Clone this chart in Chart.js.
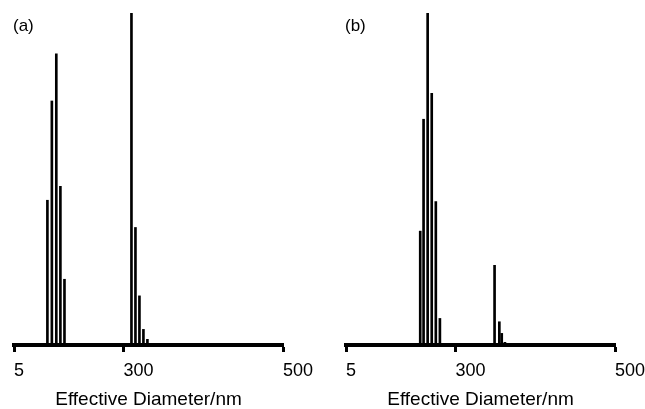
<!DOCTYPE html>
<html>
<head>
<meta charset="utf-8">
<script src="https://cdn.jsdelivr.net/npm/chart.js@4/dist/chart.umd.min.js"></script>
<style>
  html, body { margin: 0; padding: 0; background: #fff; overflow: hidden; width: 645px; height: 409px; }
  #wrap { position: relative; width: 645px; height: 409px; overflow: hidden; }
  canvas { position: absolute; top: 0; }
  #ca { left: 0; }
  #cb { left: 322px; }
  .plabel { position: absolute; top: 17px; font: 17px "Liberation Sans", Arial, sans-serif; line-height: 17px; color: #000; }
</style>
</head>
<body>
<div id="wrap">
  <canvas id="ca" width="322" height="409"></canvas>
  <canvas id="cb" width="340" height="409"></canvas>
  <div class="plabel" style="left:13px">(a)</div>
  <div class="plabel" style="left:345px">(b)</div>
</div>
<script>
// ---- data ----
const tickValues = [5, 300, 500];
const tickLabels = ['5', '300', '500'];
const axisTitle = 'Effective Diameter/nm';

const diameterA  = [95, 107, 119, 130, 141, 310, 315, 320, 325, 330];
const intensityA = [43.6, 73.5, 87.7, 47.8, 19.8, 100, 35.4, 14.8, 4.7, 1.7];

const diameterB  = [205, 214, 225, 236, 247, 258, 349, 355, 358, 362, 366];
const intensityB = [34.3, 68.0, 100, 75.8, 43.2, 8.0, 24, 7, 3.5, 0.8, 0.5];

// ---- axis with a break in scale at 300 nm (as in the original figure) ----
const BREAK_VALUE = 300;
const BREAK_FRACTION = 0.407;

class BrokenLinearScale extends Chart.LinearScale {
  _frac(v) {
    const min = this.min, max = this.max;
    if (v <= BREAK_VALUE) return (v - min) / (BREAK_VALUE - min) * BREAK_FRACTION;
    return BREAK_FRACTION + (v - BREAK_VALUE) / (max - BREAK_VALUE) * (1 - BREAK_FRACTION);
  }
  getPixelForValue(v) {
    if (v === null || v === undefined) return NaN;
    return this.getPixelForDecimal(this._frac(v));
  }
  getValueForPixel(p) {
    const d = this.getDecimalForPixel(p);
    if (d <= BREAK_FRACTION) return this.min + d / BREAK_FRACTION * (BREAK_VALUE - this.min);
    return BREAK_VALUE + (d - BREAK_FRACTION) / (1 - BREAK_FRACTION) * (this.max - BREAK_VALUE);
  }
}
BrokenLinearScale.id = 'brokenLinear';
BrokenLinearScale.defaults = Chart.LinearScale.defaults;
Chart.register(BrokenLinearScale);

const FONT = '"Liberation Sans", Arial, Helvetica, sans-serif';

function makeChart(id, xs, ys, pad) {
  const points = xs.map((x, i) => ({ x: x, y: ys[i] }));
  return new Chart(document.getElementById(id), {
    type: 'bar',
    data: {
      datasets: [{
        data: points,
        backgroundColor: '#000',
        borderWidth: 0,
        barThickness: 2
      }]
    },
    options: {
      responsive: false,
      animation: false,
      devicePixelRatio: 1,
      layout: { padding: pad },
      plugins: { legend: { display: false }, tooltip: { enabled: false } },
      scales: {
        x: {
          type: 'brokenLinear',
          min: 5,
          max: 500,
          offset: false,
          afterBuildTicks: (scale) => { scale.ticks = tickValues.map(v => ({ value: v })); },
          afterFit: (scale) => { scale.height = 64; },
          ticks: {
            autoSkip: false,
            maxRotation: 0,
            align: 'start',
            padding: 8,
            color: '#000',
            font: { family: FONT, size: 18 },
            callback: (v) => tickLabels[tickValues.indexOf(v)]
          },
          grid: {
            display: true,
            offset: false,
            drawOnChartArea: false,
            drawTicks: true,
            tickLength: 7,
            tickWidth: 3,
            tickColor: '#000',
            color: '#000'
          },
          border: { display: true, width: 4, color: '#000' },
          title: {
            display: true,
            text: axisTitle,
            color: '#000',
            font: { family: FONT, size: 19 },
            padding: { top: 0, bottom: -2 }
          }
        },
        y: {
          display: false,
          min: 0,
          max: 100
        }
      }
    }
  });
}

makeChart('ca', diameterA, intensityA, { left: 14, right: 39, top: 13, bottom: 0 });
makeChart('cb', diameterB, intensityB, { left: 24, right: 47, top: 13, bottom: 0 });
</script>
</body>
</html>
